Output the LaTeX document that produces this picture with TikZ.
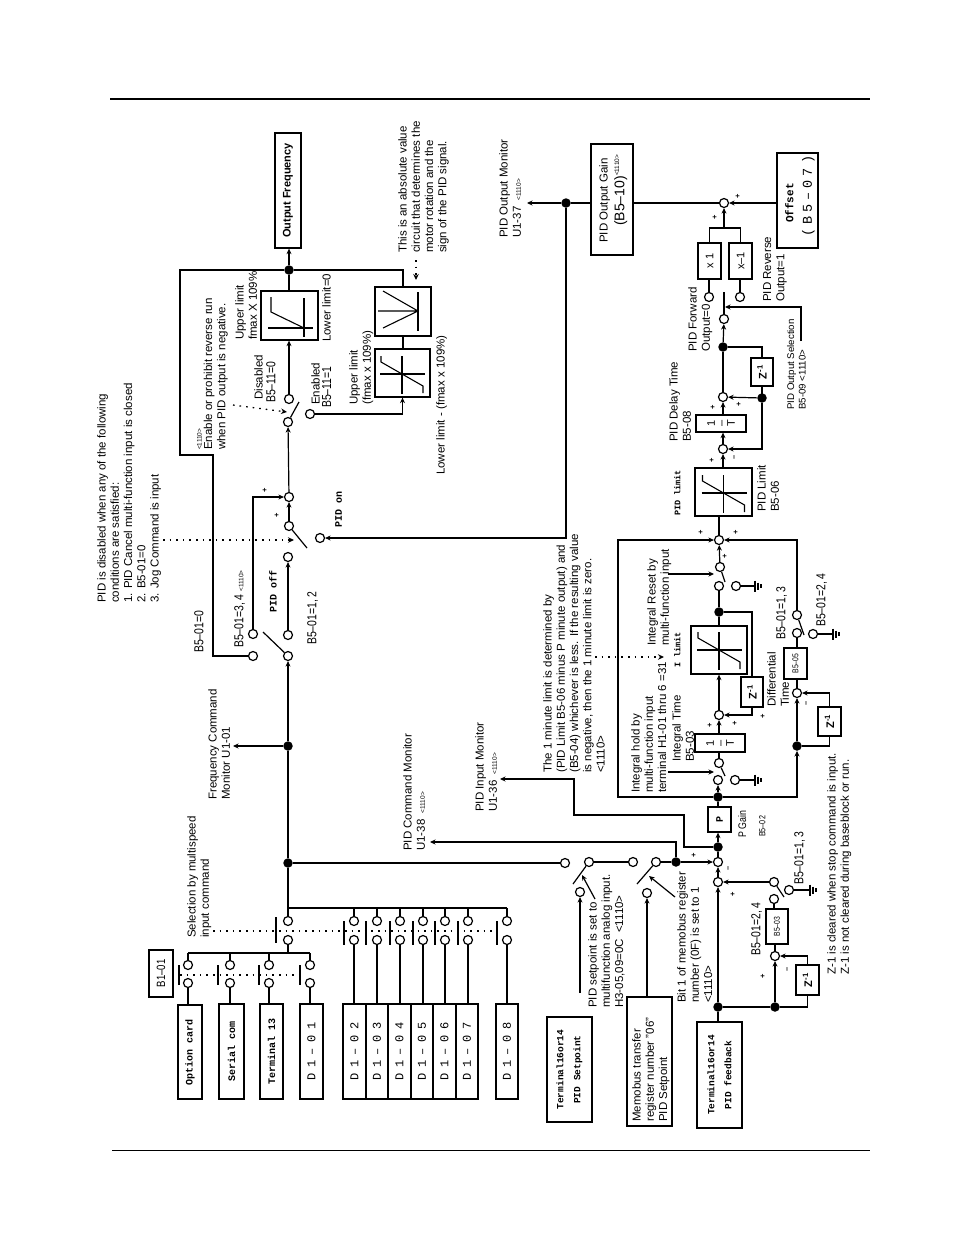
\documentclass[tikz,border=0pt]{standalone}
\usepackage{fontspec}
\setmainfont{Liberation Sans}
\newfontfamily\nar[FakeStretch=.8]{Liberation Sans}
\newfontfamily\wid[LetterSpace=30]{Liberation Mono}
\newfontfamily\widd[LetterSpace=45]{Liberation Mono}
\newfontfamily\mon{Liberation Mono}
\usetikzlibrary{arrows.meta,calc}
\newcommand{\sm}{\fontsize{6.5}{6.5}\selectfont}
\newcommand{\oc}[3]{\node[ocirc] (#1) at (#2,#3) {};}
\newcommand{\jn}[3]{\node[jdot] (#1) at (#2,#3) {};}
\newcommand{\bx}[7][]{%
  \pgfmathsetmacro\bxw{#5-#3}\pgfmathsetmacro\bxh{#6-#4}%
  \pgfmathsetmacro\bxa{(#3+#5)/2}\pgfmathsetmacro\bxb{(#4+#6)/2}%
  \node[boxs,minimum width=\bxw pt,minimum height=\bxh pt] (#2) at (\bxa,\bxb) {};%
  \node[btxt,#1] (#2t) at (#2) {#7};}
\newcommand{\lb}[5][]{\node[lbl,#1] (#2) at (#3,#4) {#5};}
\newcommand{\sg}[4]{\node[sgn] (#1) at (#2,#3) {#4};}
\tikzset{
  ln/.style={line width=1.2pt},
  arr/.style={line width=1.2pt,-{Stealth[length=5.5pt,width=5pt]}},
  dots/.style={line width=1.3pt,dash pattern=on 1.6pt off 5pt},
  dotarr/.style={dots,-{Stealth[length=6pt,width=5.5pt]}},
  ocirc/.style={circle,draw,fill=white,line width=1.2pt,minimum size=9pt,inner sep=0pt},
  jdot/.style={circle,fill=black,minimum size=9.5pt,inner sep=0pt},
  boxs/.style={rectangle,draw,line width=1.3pt,inner sep=0pt},
  btxt/.style={rotate=90,inner sep=0pt,align=center,font=\fontsize{10}{13}\selectfont},
  lbl/.style={rotate=90,anchor=north west,inner sep=0pt,align=left,font=\fontsize{11.5}{13.3}\selectfont},
  sgn/.style={inner sep=0pt,rotate=90,font=\bfseries\fontsize{7.5}{8}\selectfont},
  nrw/.style={font=\nar\fontsize{13}{14}\selectfont},
  mb/.style={font=\mon\bfseries\fontsize{10}{14}\selectfont},
  wd/.style={font=\widd\fontsize{12}{14}\selectfont},
  zz/.style={font=\bfseries\fontsize{11}{12}\selectfont},
  gnd/.pic={\draw[line width=1.1pt] (0,-5.5)--(0,5.5) (3,-3.5)--(3,3.5) (6,-2)--(6,2);},
  slim/.pic={\draw[line width=1.1pt] (-22,0)--(23,0) (0,-18)--(0,20);
             \draw[line width=1.1pt] (-21,-18)--(-21,-12)--(21,12)--(21,19);}
}
\begin{document}
\begin{tikzpicture}[x=1pt,y=-1pt]
\useasboundingbox (0,0) rectangle (954,1235);
\fill[white] (0,0) rectangle (954,1235);
% page rules
\coordinate (rt1) at (110,99); \coordinate (rt2) at (870,99);
\coordinate (rb1) at (112,1150); \coordinate (rb2) at (870,1150);
\draw[line width=2.6pt] (rt1)--(rt2);
\draw[line width=1pt] (rb1)--(rb2);

% --- boxes ---
\bx[font=\bfseries\fontsize{11}{13}\selectfont]{outf}{275}{133}{301}{248}{Output Frequency}
\bx{lima}{261}{291}{318}{340}{}
\bx{absb}{375}{287}{431}{336}{}
\bx{limb}{375}{349}{430}{397}{}
\bx{gain}{591}{144}{633}{255}{}
\bx{offs}{777}{153}{818}{248}{}
\bx[font=\fontsize{11}{12}\selectfont]{xa}{698}{243}{721}{279}{x 1}
\bx[font=\fontsize{11}{12}\selectfont]{xb}{729}{243}{752}{279}{x–1}
\bx[zz]{zc}{751}{358}{773}{386}{Z\textsuperscript{-1}}
\bx[font=\fontsize{11}{9}\selectfont]{tb}{696}{415}{746}{432}{1\\[1pt]–\\[1pt]T}
\bx{limp}{695}{468}{752}{516}{}
\bx{limi}{691}{626}{747}{674}{}
\bx[zz]{zi}{741}{677}{763}{707}{Z\textsuperscript{-1}}
\bx[zz]{zd}{818}{707}{841}{736}{Z\textsuperscript{-1}}
\bx[font=\nar\fontsize{8.5}{9}\selectfont]{bff}{784}{648}{807}{679}{B5–05}
\bx[font=\fontsize{11}{9}\selectfont]{ta}{695}{734}{745}{752}{1\\[1pt]–\\[1pt]T}
\bx[font=\mon\bfseries\fontsize{10}{10}\selectfont]{pb}{708}{807}{731}{832}{P}
\bx[font=\nar\fontsize{8.5}{9}\selectfont]{bft}{766}{909}{788}{944}{B5–03}
\bx[zz]{zf}{796}{965}{819}{995}{Z\textsuperscript{-1}}
\bx[font=\nar\fontsize{12}{13}\selectfont]{bo}{149}{950}{173}{997}{B1–01}
\bx[mb]{opt}{178}{1005}{202}{1099}{Option card}
\bx[mb]{ser}{219}{1004}{244}{1099}{Serial com}
\bx[mb]{trm}{260}{1004}{283}{1099}{Terminal 13}
\bx[wd]{da}{300}{1004}{323}{1099}{D1–01}
\bx[wd]{db}{343}{1004}{366}{1099}{D1–02}
\bx[wd]{dc}{366}{1004}{388}{1099}{D1–03}
\bx[wd]{dd}{388}{1004}{411}{1099}{D1–04}
\bx[wd]{de}{411}{1004}{433}{1099}{D1–05}
\bx[wd]{df}{433}{1004}{456}{1099}{D1–06}
\bx[wd]{dg}{456}{1004}{478}{1099}{D1–07}
\bx[wd]{dh}{496}{1004}{518}{1099}{D1–08}
\bx[font=\mon\bfseries\fontsize{9.5}{17}\selectfont]{tsp}{547}{1017}{592}{1122}{Terminal16or14\\PID Setpoint}
\bx{mem}{627}{997}{672}{1126}{}
\bx[font=\mon\bfseries\fontsize{9.5}{17}\selectfont]{tfb}{697}{1022}{742}{1128}{Terminal16or14\\PID feedback}

% --- limiter glyphs ---
\draw[line width=1.1pt] (268,328)--(313,328) (304,298)--(304,337);
\draw[line width=1.1pt] (271,297)--(271,312)--(304,328);
\pic at (402,374) {slim};
\draw[line width=1.6pt] (418,292)--(418,331);
\draw[line width=1.1pt] (378,311)--(418,311) (383,291)--(418,311)--(383,328);
\pic at (723.5,493) {slim};
\pic at (719,650) {slim};

% --- circles and junctions ---
\jn{jout}{289}{270}
\oc{sa}{289}{399} \oc{sb}{310}{414} \oc{sc}{288}{422}
\oc{ta1}{289}{497} \oc{ta2}{289}{526} \oc{ta3}{288}{557} \oc{ta4}{320}{538}
\oc{la}{253}{634} \oc{lb}{253}{656} \oc{lc}{288}{635} \oc{ld}{288}{656}
\jn{jfc}{288}{746}
\jn{jsel}{288}{863}
\oc{sela}{288}{921} \oc{selb}{288}{940}
\oc{spa}{565}{863} \oc{spb}{589}{862} \oc{spc}{580}{892}
\oc{spd}{633}{862} \oc{spe}{656}{862} \oc{spf}{647}{893}
\jn{jcm}{676}{862}
\oc{sum1}{718}{862} \oc{sum2}{718}{882}
\jn{jin}{718}{847}
\jn{jp}{718}{797}
\oc{ia}{718}{780} \oc{ib}{719}{763} \oc{ig}{735}{780}
\oc{ic}{719}{715}
\jn{jz}{719}{612}
\oc{ra}{719}{586} \oc{rb}{720}{567} \oc{rg}{736}{586}
\oc{sumo}{719}{540}
\jn{jd}{797}{746}
\oc{dsum}{797}{693} \oc{dl}{797}{633} \oc{du}{797}{615} \oc{dgr}{813}{634}
\oc{oa}{723}{449} \oc{ob}{723}{397}
\jn{jq}{762}{398} \jn{jr}{723}{347}
\oc{osw}{724}{319} \oc{fw}{709}{297} \oc{rv}{740}{297} \oc{ot}{724}{203}
\jn{jm}{566}{203}
\jn{jfb}{718}{1007} \jn{jfz}{775}{1007}
\oc{fc}{775}{956} \oc{fl}{774}{899} \oc{fu}{774}{882} \oc{fg}{789}{890}

% --- output section ---
\draw[arr] (jout) -- (jout |- outf.south);
\draw[ln] (lima.north -| jout) -- (jout);
\coordinate (fa) at (180,455); \coordinate (fb) at (213,455);
\draw[ln] (jout) -| (fa) -- (fb) |- (lb);
\draw[ln] (jout) -| (absb.north);
\draw[ln] (absb.south) -- (absb.south |- limb.north);
\draw[arr] (sb) -| (limb.south);
\draw[arr] (sa) -- (sa |- lima.south);
\coordinate (ba) at (299,402); \draw[ln] (sc) -- (ba);
\draw[arr] (ta1) -- (sc);
\draw[arr] (ta2) -- (ta1);
\coordinate (bb) at (307,548); \draw[ln] (ta2) -- (bb);
\draw[arr] (lc) -- (ta3);
\draw[arr] (la) |- (ta1);
\coordinate (bc) at (263,632); \draw[ln] (ld) -- (bc);
\draw[arr] (jsel) -- (jfc) -- (ld);
\coordinate (fcm) at (233,746); \draw[arr] (jfc) -- (fcm);
\draw[arr] (jm) |- (ta4);
\coordinate (pom) at (527,203); \draw[arr] (jm) -- (pom);
\draw[ln] (jm) -- (jm -| gain.west);
\draw[ln] (ot -| gain.east) -- (ot);
\draw[arr] (ot -| offs.west) -- (ot);
\coordinate (busm) at (724,228);
\draw[ln] (xa.north) |- (busm) -| (xb.north);
\draw[arr] (busm) -- (ot);
\draw[ln] (fw) -- (fw |- xa.south);
\draw[ln] (rv) -- (rv |- xb.south);
\coordinate (bd) at (724,292); \draw[ln] (osw) -- (bd);
\coordinate (psa) at (801,341); \coordinate (psb) at (725,307);
\draw[arr] (psa) |- (psb);
\draw[arr] (jr) -- (osw);
\draw[ln] (ob) -- (jr);
\draw[ln] (jr) -| (zc.north);
\draw[ln] (zc.south) -- (zc.south |- jq);
\draw[arr] (jq) -- (ob);
\draw[arr] (jq) |- (oa);
\draw[arr] (oa) -- (oa |- tb.south);
\draw[arr] (ob |- tb.north) -- (ob);
\draw[arr] (oa |- limp.north) -- (oa);
\draw[ln] (sumo) -- (sumo |- limp.south);

% --- PID core ---
\coordinate (ca) at (618,540);
\draw[arr] (jp) -| (ca) -- (sumo);
\draw[arr] (rb) -- (sumo);
\draw[arr] (du) |- (sumo);
\coordinate (be) at (725,582); \draw[ln] (rb) -- (be);
\coordinate (irs) at (668,574); \coordinate (irt) at (714,574); \draw[arr] (irs) -- (irt);
\coordinate (gnr) at (755,586); \draw[ln] (rg) -- (gnr); \pic at (gnr) {gnd};
\draw[ln] (ra) -- (jz);
\draw[ln] (jz) -- (jz |- limi.north);
\draw[ln] (jz) -| (zi.north);
\draw[arr] (zi.south) |- (ic);
\draw[arr] (ic) -- (ic |- limi.south);
\draw[arr] (ic |- ta.north) -- (ic);
\draw[ln] (ib) -- (ib |- ta.south);
\coordinate (bf) at (725,776); \draw[ln] (ib) -- (bf);
\coordinate (ihs) at (668,772); \coordinate (iht) at (714,772); \draw[arr] (ihs) -- (iht);
\coordinate (gni) at (755,780); \draw[ln] (ig) -- (gni); \pic at (gni) {gnd};
\draw[arr] (jp) -- (ia);
\draw[ln] (jp |- pb.north) -- (jp);
\draw[arr] (jin) -- (jin |- pb.south);
\coordinate (ii1) at (684,847); \coordinate (ii2) at (684,815);
\coordinate (ii3) at (574,815); \coordinate (ii4) at (574,779); \coordinate (ii5) at (500,779);
\draw[arr] (jin) -- (ii1) -- (ii2) -- (ii3) -- (ii4) -- (ii5);
\draw[ln] (sum1) -- (jin);
\draw[arr] (sum2) -- (sum1);
\draw[arr] (jcm) -- (sum1);
\coordinate (cm1) at (676,842); \coordinate (cm2) at (430,842);
\draw[arr] (jcm) -- (cm1) -- (cm2);
\draw[ln] (spe) -- (jcm);
\draw[ln] (spb) -- (spd);
\draw[ln] (jsel) -- (spa);
\coordinate (bg) at (573,884); \draw[ln] (spb) -- (bg);
\coordinate (bh) at (637,884); \draw[ln] (spe) -- (bh);
\coordinate (spt) at (580,993); \draw[arr] (spt) -- (spc);
\draw[arr] (spf |- mem.north) -- (spf);
\coordinate (na1) at (595,899); \coordinate (na2) at (582,875); \draw[arr] (na1) -- (na2);
\coordinate (nb1) at (675,897); \coordinate (nb2) at (649,876); \draw[arr] (nb1) -- (nb2);

% --- derivative branch ---
\draw[arr] (jp) -| (jd);
\draw[arr] (jd) -- (dsum);
\draw[ln] (jd) -| (zd.south);
\draw[arr] (zd.north) |- (dsum);
\draw[ln] (dsum) -- (dsum |- bff.south);
\draw[ln] (dl |- bff.north) -- (dl);
\coordinate (bi) at (804,635); \draw[ln] (du) -- (bi);
\coordinate (gnd1) at (833,634); \draw[ln] (dgr) -- (gnd1); \pic at (gnd1) {gnd};

% --- feedback ---
\draw[ln] (jfb |- tfb.north) -- (jfb);
\draw[arr] (jfb) -- (sum2);
\draw[ln] (jfb) -- (jfz) -| (zf.south);
\draw[arr] (jfz) -- (fc);
\draw[arr] (zf.north) |- (fc);
\draw[ln] (fc) -- (fc |- bft.south);
\draw[ln] (fl |- bft.north) -- (fl);
\draw[arr] (fu) -- (sum2);
\coordinate (bj) at (784,897); \draw[ln] (fu) -- (bj);
\coordinate (gnd2) at (810,890); \draw[ln] (fg) -- (gnd2); \pic at (gnd2) {gnd};

% --- selection section ---
\draw[ln] (jsel) -- (sela);
\coordinate (busa) at (288,908); \coordinate (busb) at (507,908);
\draw[ln] (busa) -- (busb);
\foreach \n/\x/\b in {p/354/db,q/377/dc,r/400/dd,s/423/de,t/445/df,u/468/dg,v/507/dh}{
  \oc{u\n}{\x}{921} \oc{l\n}{\x}{940}
  \draw[ln] (u\n |- busa) -- (u\n);
  \draw[ln] (l\n) -- (l\n |- \b.north);
}
\coordinate (busc) at (188,953); \coordinate (busd) at (310,953); \coordinate (buse) at (288,953);
\draw[ln] (busc) -- (busd);
\draw[ln] (selb) -- (buse);
\foreach \n/\x/\b in {a/188/opt,b/230/ser,c/269/trm,d/310/da}{
  \oc{v\n}{\x}{965} \oc{w\n}{\x}{983}
  \draw[ln] (v\n |- busc) -- (v\n);
  \draw[ln] (w\n) -- (w\n |- \b.north);
}
% gang ticks
\foreach \x in {276}{\draw[line width=1.2pt] (\x,917)--(\x,943);}
\foreach \x in {344,366,390,413,435,458,497}{\draw[line width=1.2pt] (\x,921)--(\x,945);}
\foreach \x in {179,218,259,300}{\draw[line width=1.2pt] (\x,965)--(\x,985);}
\draw[dots] (213,931)--(497,931);
\draw[dots] (180,975)--(300,975);

% --- dotted pointers ---
\coordinate (da1) at (416,260); \coordinate (da2) at (416,280); \draw[dotarr] (da1)--(da2);
\coordinate (db1) at (233,405); \coordinate (db2) at (287,412); \draw[dotarr] (db1)--(db2);
\coordinate (dc1) at (163,540); \coordinate (dc2) at (294,540); \draw[dotarr] (dc1)--(dc2);
\coordinate (dd1) at (595,657); \coordinate (dd2) at (664,657); \draw[dotarr] (dd1)--(dd2);

% --- signs ---
\sg{s1}{265}{490}{+} \sg{s2}{277}{515}{+}
\sg{s3}{715}{217}{+} \sg{s4}{738}{196}{+}
\sg{s5}{713}{407}{+} \sg{s6}{739}{404}{+}
\sg{s7}{712}{460}{+} \sg{s8}{735}{457}{–}
\sg{s9}{701}{532}{+} \sg{s10}{736}{532}{+} \sg{s11}{725}{556}{+}
\sg{s12}{763}{716}{+} \sg{s13}{710}{725}{+} \sg{s14}{735}{723}{+} \sg{s15}{807}{703}{–}
\sg{s16}{694}{855}{+} \sg{s17}{729}{868}{–} \sg{s18}{733}{894}{+}
\sg{s19}{763}{976}{+} \sg{s20}{788}{969}{–}

% --- labels ---
\lb{t1}{97}{603}{PID is disabled when any of the following\\conditions are satisfied:\\1. PID Cancel multi-function input is closed\\2. B5-01=0\\3. Jog Command is input}
\lb{t2}{197}{450}{{\sm <1110>}\\[-3pt]Enable or prohibit reverse run\\when PID output is negative.}
\lb{t3}{235}{340}{Upper limit\\fmax X 109\%}
\lb{t4}{322}{342}{Lower limit=0}
\lb{t5}{254}{400}{Disabled}
\lb[nrw]{t6}{266}{403}{B5–11=0}
\lb{t7}{311}{405}{Enabled}
\lb[nrw]{t8}{322}{408}{B5–11=1}
\lb{t9}{349}{405}{Upper limit\\(fmax x 109\%)}
\lb{t10}{436}{475}{Lower limit - (fmax x 109\%)}
\lb{t11}{398}{253}{This is an absolute value\\circuit that determines the\\motor rotation and the\\sign of the PID signal.}
\lb[nrw]{t12}{194}{653}{B5–01=0}
\lb[nrw]{t13}{234}{648}{B5–01=3, 4 {\rmfamily\sm <1110>}}
\lb[mb]{t14}{269}{613}{PID off}
\lb[nrw]{t15}{307}{645}{B5–01=1, 2}
\lb[mb]{t16}{335}{528}{PID on}
\lb{t17}{208}{800}{Frequency Command\\Monitor U1-01}
\lb{t18}{187}{938}{Selection by multispeed\\input command}
\lb{t19}{403}{851}{PID Command Monitor\\U1-38 \ {\sm <1110>}}
\lb{t20}{475}{812}{PID Input Monitor\\U1-36 \ {\sm <1110>}}
\lb{t21}{499}{238}{PID Output Monitor\\U1-37 \ {\sm <1110>}}
\lb{t22}{599}{243}{PID Output Gain}
\node[lbl,font=\fontsize{14}{15}\selectfont] (t23) at (614,226) {(B5–10)\textsuperscript{\sm <1110>}};
\lb[font=\mon\bfseries\fontsize{11}{12}\selectfont]{t24}{785}{223}{Offset}
\lb[font=\wid\fontsize{13.5}{14}\selectfont]{t25}{802}{237}{(B5–07)}
\lb{t26}{688}{352}{PID Forward\\Output=0}
\lb{t27}{763}{302}{PID Reverse\\Output=1}
\lb[font=\fontsize{9.7}{11.5}\selectfont]{t28}{787}{410}{PID Output Selection\\B5-09 <1110>}
\lb{t29}{669}{442}{PID Delay Time\\B5-08}
\lb[font=\mon\bfseries\fontsize{8.5}{9}\selectfont]{t30}{674}{516}{PID limit}
\lb{t31}{757}{512}{PID Limit\\B5-06}
\lb{t32}{647}{646}{Integral Reset by\\multi-function input}
\lb[font=\mon\bfseries\fontsize{8.5}{9}\selectfont]{t33}{674}{668}{I limit}
\lb{t34}{631}{793}{Integral hold by\\multi-function input\\terminal H1-01 thru 6 =31}
\lb{t35}{672}{762}{Integral Time\\B5-03}
\lb{t36}{543}{773}{The 1 minute limit is determined by\\(PID Limit B5-06 minus P minute output) and\\(B5-04) whichever is less. If the resulting value\\is negative, then the 1 minute limit is zero.\\<1110>}
\lb{t37}{767}{707}{Differential\\Time}
\lb[nrw]{t38}{776}{640}{B5–01=1, 3}
\lb[nrw]{t39}{816}{627}{B5–01=2, 4}
\lb[font=\nar\fontsize{11}{12}\selectfont]{t40}{738}{838}{P Gain}
\lb[font=\nar\fontsize{9}{10}\selectfont]{t41}{759}{837}{B5–02}
\lb{t42}{588}{1008}{PID setpoint is set to\\multifunction analog input.\\H3-05,09=0C \ <1110>}
\lb{t43}{632}{1122}{Memobus transfer\\register number "06"\\PID Setpoint}
\lb{t44}{677}{1003}{Bit 1 of memobus register\\number (0F) is set to 1\\<1110>}
\lb[nrw]{t45}{794}{885}{B5–01=1, 3}
\lb[nrw]{t46}{751}{956}{B5–01=2, 4}
\lb{t47}{827}{975}{Z-1 is cleared when stop command is input.\\Z-1 is not cleared during baseblock or run.}
\end{tikzpicture}
\end{document}
